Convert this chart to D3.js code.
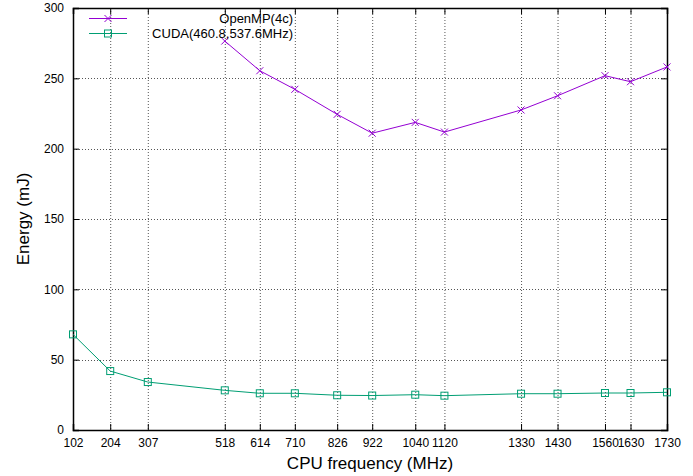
<html>
<head>
<style>
  body { margin: 0; background: #fff; }
  text { font-family: "Liberation Sans", Arial, sans-serif; fill: #000; }
</style>
</head>
<body>
<svg id="chart" width="693" height="476"></svg>
<script src="https://cdn.jsdelivr.net/npm/d3@7"></script>
<script>
const freqs = [102, 204, 307, 518, 614, 710, 826, 922, 1040, 1120, 1330, 1430, 1560, 1630, 1730]
const yTicks = [0, 50, 100, 150, 200, 250, 300]

const openmpFreqs = [518, 614, 710, 826, 922, 1040, 1120, 1330, 1430, 1560, 1630, 1730]
const openmpEnergy = [276.5, 255.4, 242.2, 224.4, 211.0, 218.7, 211.8, 227.5, 237.6, 251.9, 247.6, 258.1]

const cudaFreqs = freqs
const cudaEnergy = [68.0, 41.9, 34.1, 28.2, 26.1, 26.1, 24.7, 24.5, 25.1, 24.4, 25.8, 25.8, 26.3, 26.3, 26.8]

const svg = d3.select("#chart")
const pLeft = 73, pRight = 667, pTop = 8, pBottom = 430

let x = d3.scaleLinear().domain([102, 1730]).range([pLeft, pRight])
let y = d3.scaleLinear().domain([0, 300]).range([pBottom, pTop])

// grid
let grid = svg.append("g")
grid.selectAll(".vg").data(freqs.slice(1, -1)).enter().append("line")
    .attr("x1", d => x(d) + 0.5).attr("x2", d => x(d) + 0.5)
    .attr("y1", pTop).attr("y2", pBottom)
    .attr("stroke", "#555").attr("stroke-dasharray", "1,2")
grid.selectAll(".hg").data(yTicks.slice(1, -1)).enter().append("line")
    .attr("x1", pLeft).attr("x2", pRight)
    .attr("y1", d => Math.round(y(d)) + 0.5).attr("y2", d => Math.round(y(d)) + 0.5)
    .attr("stroke", "#555").attr("stroke-dasharray", "1,2")

// axes (ticks inward, mirrored)
let fmt = d3.format("d")
svg.append("g").attr("transform", `translate(0,${pBottom})`)
    .call(d3.axisBottom(x).tickValues(freqs).tickSize(-6).tickPadding(8).tickFormat(fmt))
svg.append("g").attr("transform", `translate(0,${pTop})`)
    .call(d3.axisTop(x).tickValues(freqs).tickSize(-6).tickFormat(""))
svg.append("g").attr("transform", `translate(${pLeft},0)`)
    .call(d3.axisLeft(y).tickValues(yTicks).tickSize(-6).tickPadding(9))
svg.append("g").attr("transform", `translate(${pRight},0)`)
    .call(d3.axisRight(y).tickValues(yTicks).tickSize(-6).tickFormat(""))
svg.selectAll(".domain").attr("stroke", "#000").attr("stroke-width", 1.5)
svg.selectAll(".tick line").attr("stroke", "#000")
svg.selectAll(".tick text").style("font-size", "12px").attr("fill", "#000")
    .style("font-family", "Liberation Sans, Arial, sans-serif")

// titles
svg.append("text").attr("x", 370).attr("y", 469)
    .attr("text-anchor", "middle").style("font-size", "17px").text("CPU frequency (MHz)")
svg.append("text").attr("transform", `translate(29,${(pTop + pBottom) / 2}) rotate(-90)`)
    .attr("text-anchor", "middle").style("font-size", "17px").text("Energy (mJ)")

// series
let line = d3.line().x(d => x(d[0])).y(d => y(d[1]))
let openmp = openmpFreqs.map((f, i) => [f, openmpEnergy[i]])
let cuda = cudaFreqs.map((f, i) => [f, cudaEnergy[i]])
let purple = "#9400d3", green = "#009e73"

svg.append("path").datum(cuda).attr("d", line).attr("fill", "none").attr("stroke", green)
svg.selectAll(".sq").data(cuda).enter().append("rect")
    .attr("x", d => x(d[0]) - 3.5).attr("y", d => y(d[1]) - 3.5)
    .attr("width", 7).attr("height", 7).attr("fill", "none").attr("stroke", green)

svg.append("path").datum(openmp).attr("d", line).attr("fill", "none").attr("stroke", purple)
function cross(g, cx, cy, c) {
    g.append("path").attr("d", `M${cx - 3.5},${cy - 3.5}L${cx + 3.5},${cy + 3.5}M${cx - 3.5},${cy + 3.5}L${cx + 3.5},${cy - 3.5}`)
        .attr("stroke", c).attr("fill", "none")
}
let marks = svg.append("g")
openmp.forEach(d => cross(marks, x(d[0]), y(d[1]), purple))

// legend
let legend = svg.append("g")
legend.append("line").attr("x1", 89).attr("x2", 127).attr("y1", 18.5).attr("y2", 18.5).attr("stroke", purple)
cross(legend, 108, 18.5, purple)
legend.append("text").attr("x", 293).attr("y", 23).attr("text-anchor", "end")
    .style("font-size", "13px").text("OpenMP(4c)")
legend.append("line").attr("x1", 89).attr("x2", 127).attr("y1", 33.5).attr("y2", 33.5).attr("stroke", green)
legend.append("rect").attr("x", 104.5).attr("y", 30).attr("width", 7).attr("height", 7)
    .attr("fill", "none").attr("stroke", green)
legend.append("text").attr("x", 293).attr("y", 38).attr("text-anchor", "end")
    .style("font-size", "13px").text("CUDA(460.8,537.6MHz)")
</script>
</body>
</html>
